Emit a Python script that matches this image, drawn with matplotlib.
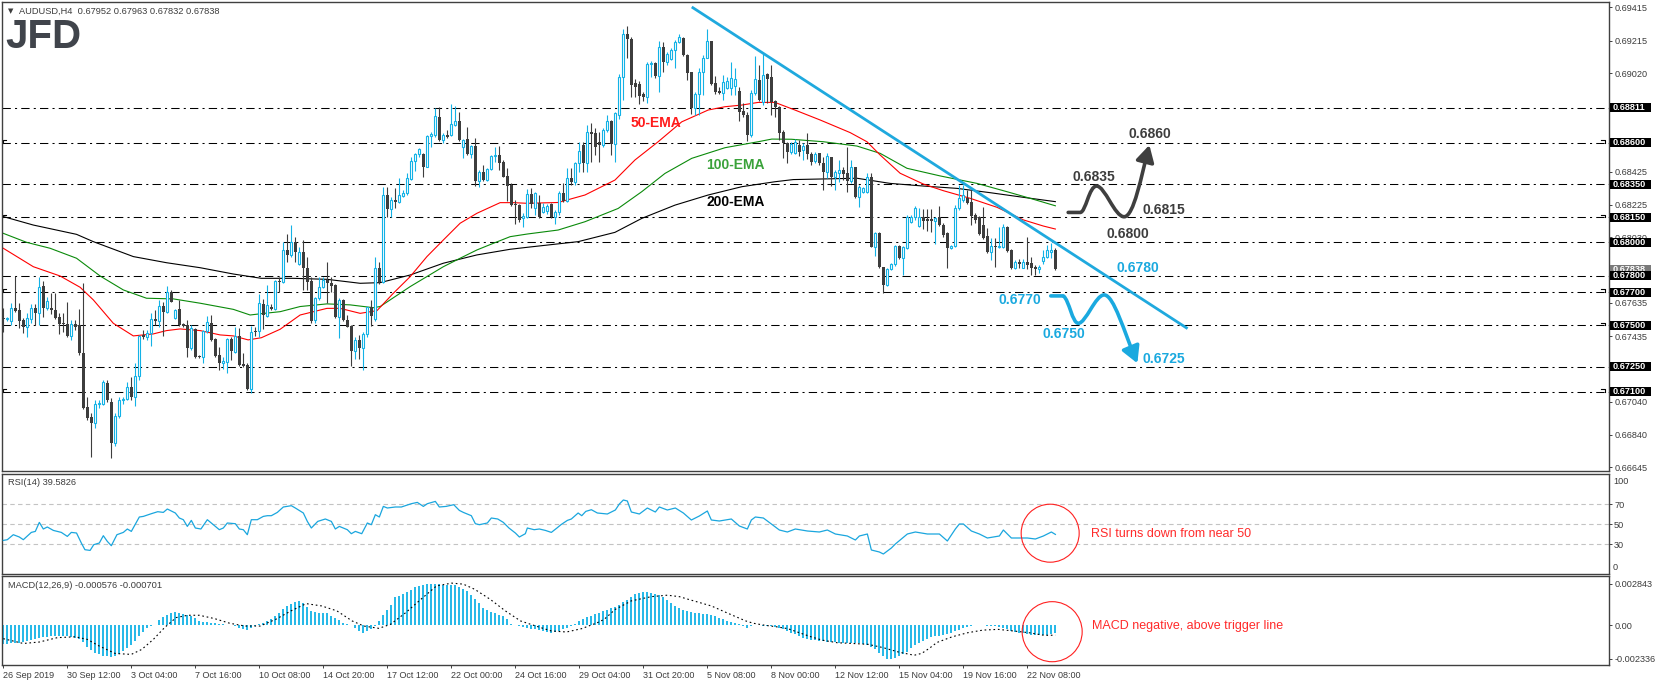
import numpy as np
import matplotlib
matplotlib.use('Agg')
import matplotlib.pyplot as plt
from matplotlib.patches import Rectangle, Ellipse, FancyArrowPatch
from matplotlib.path import Path

plt.rcParams['font.family'] = ['Liberation Sans', 'DejaVu Sans']

# ---- AUDUSD H4 candles (bar index 0 = 26 Sep 2019 00:00) ----
opens = [
    .67542, .67536, .67528, .67602, .67592, .67532, .67492, .67538, .67602, .67572,
    .67737, .67602, .67602, .67592, .67552, .67508, .67508, .67436, .67508, .67502,
    .67335, .67010, .66946, .66914, .67026, .67026, .67155, .67040, .66793, .66954,
    .67050, .67054, .67126, .67066, .67195, .67442, .67428, .67456, .67538, .67528,
    .67616, .67582, .67701, .67542, .67596, .67508, .67502, .67361, .67476, .67315,
    .67307, .67466, .67512, .67416, .67321, .67271, .67281, .67416, .67341, .67436,
    .67265, .67261, .67114, .67466, .67466, .67627, .67556, .67613, .67601, .67767,
    .67761, .67954, .67924, .68000, .67868, .67940, .67848, .67767, .67532, .67663,
    .67733, .67773, .67753, .67743, .67548, .67653, .67532, .67496, .67346, .67412,
    .67362, .67448, .67608, .67536, .67843, .67763, .68285, .68199, .68255, .68245,
    .68280, .68295, .68380, .68490, .68532, .68532, .68456, .68641, .68647, .68753,
    .68617, .68647, .68647, .68707, .68731, .68576, .68621, .68532, .68580, .68372,
    .68426, .68376, .68440, .68520, .68526, .68486, .68400, .68345, .68231, .68225,
    .68145, .68155, .68291, .68208, .68234, .68184, .68190, .68228, .68154, .68184,
    .68295, .68251, .68389, .68361, .68475, .68586, .68475, .68662, .68656, .68606,
    .68586, .68676, .68730, .68590, .68767, .68998, .69255, .69224, .68957, .68951,
    .68891, .68877, .69072, .69078, .69004, .69178, .69084, .69104, .69158, .69208,
    .69234, .69128, .69024, .68807, .68891, .69024, .69112, .69212, .68957, .68911,
    .68897, .68927, .68927, .68943, .68911, .68791, .68767, .68646, .68897, .68975,
    .68847, .69012, .68998, .68851, .68817, .68666, .68596, .68546, .68540, .68586,
    .68556, .68586, .68532, .68492, .68536, .68480, .68426, .68512, .68396, .68420,
    .68436, .68416, .68372, .68452, .68271, .68305, .68305, .68392, .67974, .68058,
    .67853, .67743, .67837, .67869, .67978, .67904, .67964, .68125, .68155, .68098,
    .68151, .68139, .68139, .68131, .68151, .68104, .68054, .67964, .67978, .68205,
    .68255, .68265, .68245, .68165, .68151, .68104, .68038, .67944, .67978, .67974,
    .67970, .68094, .67954, .67843, .67884, .67843, .67884, .67877, .67853, .67837,
    .67890, .67914, .67940, .67952]
highs = [
    .67602, .67550, .67633, .67797, .67633, .67542, .67572, .67628, .67628, .67789,
    .67769, .67673, .67693, .67697, .67576, .67572, .67643, .67532, .67532, .67596,
    .67753, .67070, .66970, .67050, .67050, .67171, .67171, .67060, .66970, .67070,
    .67070, .67161, .67191, .67271, .67442, .67472, .67472, .67572, .67592, .67653,
    .67643, .67737, .67713, .67596, .67653, .67516, .67532, .67502, .67482, .67321,
    .67472, .67556, .67562, .67422, .67371, .67311, .67422, .67432, .67492, .67482,
    .67331, .67271, .67496, .67492, .67687, .67660, .67743, .67629, .67773, .67793,
    .68004, .68050, .68104, .68034, .67974, .68014, .67914, .67793, .67669, .67789,
    .67789, .67884, .67793, .67749, .67663, .67657, .67562, .67502, .67432, .67442,
    .67462, .67612, .67653, .67914, .67884, .68331, .68331, .68275, .68325, .68386,
    .68315, .68416, .68512, .68540, .68570, .68540, .68647, .68667, .68807, .68813,
    .68657, .68677, .68833, .68821, .68787, .68621, .68697, .68586, .68627, .68436,
    .68466, .68446, .68526, .68576, .68580, .68496, .68446, .68356, .68255, .68231,
    .68175, .68320, .68325, .68305, .68285, .68234, .68230, .68234, .68194, .68309,
    .68355, .68449, .68445, .68485, .68606, .68606, .68706, .68716, .68686, .68662,
    .68686, .68767, .68736, .68787, .69012, .69285, .69303, .69238, .68987, .68971,
    .68907, .69088, .69092, .69088, .69212, .69208, .69148, .69168, .69218, .69253,
    .69238, .69132, .69028, .68907, .69048, .69128, .69285, .69216, .69004, .68937,
    .69008, .68998, .69088, .69048, .68937, .68837, .68787, .68917, .69124, .69068,
    .69132, .69018, .69068, .68857, .68823, .68676, .68606, .68606, .68621, .68616,
    .68596, .68657, .68546, .68546, .68540, .68516, .68536, .68516, .68436, .68496,
    .68456, .68576, .68496, .68456, .68345, .68335, .68416, .68416, .68064, .68064,
    .67853, .67843, .67877, .67984, .67984, .67978, .68165, .68165, .68219, .68205,
    .68199, .68199, .68199, .68155, .68219, .68114, .68064, .67984, .68225, .68345,
    .68345, .68315, .68315, .68175, .68159, .68211, .68084, .68024, .68024, .68094,
    .68110, .68098, .67958, .67894, .67898, .67898, .68034, .67914, .67863, .67863,
    .67954, .67984, .67994, .67963]
lows = [
    .67462, .67528, .67502, .67582, .67482, .67456, .67428, .67516, .67502, .67502,
    .67548, .67592, .67568, .67536, .67448, .67462, .67432, .67412, .67472, .67321,
    .66994, .66930, .66709, .66880, .67000, .67020, .67040, .66699, .66773, .66940,
    .67026, .67050, .67050, .67014, .67171, .67416, .67412, .67377, .67502, .67492,
    .67436, .67572, .67643, .67538, .67496, .67492, .67311, .67351, .67301, .67301,
    .67275, .67452, .67408, .67311, .67231, .67235, .67215, .67291, .67335, .67255,
    .67251, .67110, .67094, .67436, .67432, .67480, .67548, .67593, .67593, .67703,
    .67753, .67884, .67914, .67884, .67864, .67710, .67713, .67512, .67512, .67653,
    .67727, .67637, .67701, .67542, .67422, .67528, .67488, .67255, .67295, .67295,
    .67231, .67432, .67496, .67528, .67749, .67753, .68151, .68151, .68205, .68235,
    .68275, .68285, .68376, .68432, .68516, .68396, .68452, .68576, .68633, .68613,
    .68597, .68627, .68641, .68701, .68613, .68506, .68526, .68506, .68340, .68336,
    .68372, .68372, .68436, .68486, .68436, .68392, .68251, .68219, .68111, .68125,
    .68094, .68145, .68205, .68164, .68144, .68174, .68170, .68144, .68108, .68164,
    .68245, .68245, .68345, .68345, .68425, .68425, .68425, .68485, .68526, .68485,
    .68576, .68666, .68526, .68485, .68746, .68857, .69108, .68877, .68877, .68831,
    .68851, .68837, .68998, .68992, .68907, .69028, .69068, .69098, .69048, .69200,
    .69124, .68977, .68771, .68767, .68767, .68887, .69108, .68947, .68891, .68891,
    .68857, .68923, .68887, .68887, .68730, .68757, .68610, .68636, .68887, .68851,
    .68827, .68837, .68767, .68757, .68616, .68510, .68475, .68530, .68532, .68520,
    .68496, .68500, .68466, .68480, .68466, .68315, .68386, .68339, .68315, .68365,
    .68376, .68305, .68356, .68265, .68211, .68300, .68300, .67970, .67918, .67843,
    .67693, .67737, .67833, .67857, .67898, .67803, .67958, .68115, .68135, .68094,
    .68078, .68070, .68064, .67990, .68098, .68034, .67843, .67958, .67974, .68195,
    .68245, .68231, .68104, .68118, .68044, .68018, .67938, .67894, .67853, .67964,
    .67964, .67944, .67837, .67837, .67843, .67843, .67837, .67803, .67803, .67817,
    .67870, .67904, .67904, .67832]
closes = [
    .67536, .67540, .67602, .67588, .67528, .67492, .67542, .67602, .67572, .67729,
    .67602, .67647, .67592, .67542, .67508, .67506, .67436, .67508, .67492, .67335,
    .67004, .66940, .66914, .67026, .67030, .67161, .67050, .66793, .66954, .67050,
    .67054, .67126, .67066, .67195, .67436, .67428, .67456, .67536, .67528, .67616,
    .67582, .67701, .67643, .67592, .67502, .67496, .67361, .67482, .67307, .67307,
    .67466, .67518, .67412, .67315, .67271, .67285, .67416, .67347, .67436, .67261,
    .67257, .67114, .67462, .67462, .67633, .67562, .67621, .67601, .67767, .67761,
    .67954, .67924, .68000, .67944, .67940, .67848, .67763, .67528, .67663, .67733,
    .67773, .67753, .67737, .67548, .67653, .67532, .67492, .67346, .67412, .67362,
    .67448, .67608, .67556, .67843, .67763, .68285, .68199, .68255, .68245, .68285,
    .68295, .68386, .68490, .68532, .68560, .68452, .68641, .68653, .68761, .68617,
    .68647, .68637, .68713, .68731, .68617, .68617, .68532, .68580, .68372, .68426,
    .68376, .68440, .68520, .68526, .68480, .68396, .68340, .68225, .68225, .68135,
    .68159, .68289, .68231, .68295, .68154, .68214, .68218, .68150, .68184, .68295,
    .68251, .68385, .68361, .68475, .68550, .68475, .68662, .68650, .68576, .68586,
    .68676, .68730, .68590, .68777, .68998, .69255, .69224, .68947, .68937, .68883,
    .68877, .69072, .69078, .69004, .69178, .69084, .69132, .69158, .69208, .69238,
    .69128, .69018, .68807, .68891, .69024, .69112, .69212, .68951, .68907, .68897,
    .68967, .68971, .68992, .68987, .68787, .68767, .68646, .68897, .68983, .68857,
    .69008, .68987, .68847, .68817, .68656, .68596, .68546, .68594, .68606, .68546,
    .68580, .68532, .68486, .68532, .68476, .68426, .68520, .68396, .68426, .68436,
    .68412, .68372, .68452, .68271, .68331, .68325, .68392, .67974, .68058, .67849,
    .67743, .67837, .67869, .67978, .67904, .67970, .68155, .68155, .68205, .68151,
    .68131, .68131, .68131, .68145, .68104, .68044, .67964, .67978, .68205, .68265,
    .68285, .68239, .68159, .68135, .68050, .68024, .67944, .67978, .67974, .67978,
    .68094, .67950, .67843, .67884, .67870, .67884, .67864, .67843, .67837, .67853,
    .67914, .67954, .67952, .67838]

# ---- moving averages (bar index, price) ----
ema50_x = [0, 7.5, 14.2, 19.2, 22.5, 27.5, 32.5, 37.5, 40.8, 44.2, 49.2, 54.2, 57.5, 61.2, 64.5,
           69.2, 74.2, 80.9, 84.2, 89.2, 93.4, 97.5, 101.7, 105.9, 110, 114.2, 118.4, 124.2,
           127.5, 131, 138.7, 145.4, 152.9, 157.9, 163.7, 169.6, 176.2, 180.4, 184.6, 188.7,
           192.9, 197.9, 204.2, 211.7, 215.9, 219.2, 224.2, 230, 235, 241.7, 248.4, 255, 260, 263]
ema50_y = [.67964, .67853, .67797, .67729, .67653, .67512, .67436, .67448, .67468, .67478, .67468,
           .67442, .67436, .67412, .67425, .67476, .67562, .67602, .67602, .67572, .67588, .67693,
           .67793, .67914, .68014, .68115, .68175, .68239, .68239, .68235, .68240, .68285, .68375,
           .68496, .68606, .68726, .68797, .68817, .68827, .68843, .68843, .68797, .68737, .68661,
           .68606, .68526, .68416, .68351, .68311, .68265, .68211, .68135, .68098, .68080]
ema100_x = [0, 5.8, 11.7, 18.3, 24.2, 30, 35.8, 42.5, 49.2, 57.5, 61.7, 64.5, 69.2, 74.2, 80.9,
            86.7, 92.5, 94.2, 101.7, 110, 114.2, 118.4, 122.5, 126.7, 131, 138.7, 145.4, 153.7,
            159.6, 165.4, 172.1, 180.4, 188.7, 192.1, 197, 205, 213.4, 219.2, 225.9, 234.2,
            243.4, 250.9, 256.7, 263]
ema100_y = [.68054, .68000, .67964, .67904, .67797, .67713, .67663, .67659, .67633, .67596, .67562,
            .67570, .67582, .67613, .67629, .67623, .67606, .67613, .67733, .67853, .67904, .67954,
            .67994, .68034, .68050, .68074, .68124, .68204, .68305, .68415, .68506, .68570, .68606,
            .68622, .68621, .68606, .68580, .68536, .68446, .68400, .68355, .68305, .68265, .68220]
ema200_x = [0, 7.5, 18.3, 22.5, 32.5, 40.8, 49.2, 57.5, 64.5, 72.5, 80.9, 89.2, 94.2, 101.7, 110,
            118.4, 126.7, 131, 143.7, 152.9, 159.6, 167.9, 176.2, 184.6, 192.9, 197.5, 213.4,
            221.7, 230, 238.4, 246.7, 255, 263]
ema200_y = [.68155, .68104, .68048, .68004, .67914, .67877, .67847, .67809, .67783, .67783, .67777,
            .67753, .67757, .67803, .67874, .67924, .67958, .67970, .68004, .68060, .68144, .68224,
            .68285, .68335, .68365, .68378, .68386, .68355, .68339, .68325, .68299, .68271, .68245]

levels = [0.68811, 0.68600, 0.68350, 0.68150, 0.68000, 0.67800, 0.67700, 0.67500, 0.67250, 0.67100]
hook_left = [0.68600, 0.68150, 0.67700, 0.67100]
hook_right = [0.68600, 0.68150, 0.67700, 0.67500, 0.67100]
price_ticks = [0.69415, 0.69215, 0.69020, 0.68425, 0.68225, 0.68030,
               0.67635, 0.67435, 0.67040, 0.66840, 0.66645]
last_price = 0.67838
trend_x = [172.1, 296.05]
trend_y = [0.69418, 0.67480]

# ---- RSI(14) ----
rsi_x = [0, 1, 2.5, 4, 5, 7, 8, 9, 10, 11, 12.5, 14.5, 16, 17, 18.3, 19.5, 20.4, 21.7, 22.6, 24,
         25, 26, 27, 28.4, 30, 31, 32, 34, 35, 37, 38.6, 40, 41, 43, 44, 45, 46, 47, 48, 49.4,
         51, 52, 54, 55, 56, 58, 59, 60, 61, 62, 63.5, 65, 66, 67, 68.5, 70, 72, 73, 75, 76, 77,
         78.6, 80.5, 82, 83, 84, 86, 87, 88, 89.6, 91, 92, 93, 94, 95, 96, 98, 99.5, 102, 103.5,
         105, 106, 108, 109, 110.7, 112.6, 114, 115, 117, 118, 119, 121, 122, 123.6, 125, 126.4,
         128, 129, 130.5, 131, 132.7, 134, 135.5, 137, 138.4, 139.4, 141, 142, 143.7, 144.6,
         145.6, 147, 148.5, 151, 153, 154, 155, 156, 157, 159, 161, 163, 164, 166, 168, 170, 172,
         174, 176, 177, 179, 182, 184, 186, 187, 188, 190, 192, 194, 196, 198, 201, 204, 206,
         208, 211, 213, 214, 216, 217, 219, 220, 222, 223, 226, 228, 231, 234, 236, 238, 239,
         240, 242, 244, 246, 249, 250, 252, 254, 256, 258, 260, 262, 263]
rsi_y = [33.6, 34.3, 39.3, 37, 34.3, 41.6, 42.6, 51.6, 45, 47, 43.6, 41.6, 37.6, 41.6, 41, 31,
         24.3, 23.6, 29.3, 31, 38.3, 32.6, 28.3, 39.3, 41.6, 45, 42.6, 57, 57.6, 60.3, 62.3, 61.6,
         65, 61, 56, 54.3, 47.6, 53.6, 46, 45, 54.3, 51, 44.3, 46, 51, 50.3, 45, 44.3, 39.3, 54.3,
         54.3, 57.6, 58.3, 58.3, 61.6, 67, 68.3, 66, 61, 52.6, 46, 52.6, 55, 52.6, 45, 47.6, 44.3,
         40.3, 42.6, 40.3, 51, 49.3, 59.3, 57, 67.6, 66, 67, 67, 70.3, 71.6, 67.6, 70.3, 72.6, 67,
         67.6, 69.3, 63.6, 61.6, 58.3, 50.3, 49.3, 51, 56, 55, 51.6, 46, 41, 37, 40.3, 46, 44.3,
         45, 43.6, 41.6, 46, 49.3, 53.6, 55, 61, 58.3, 62.6, 64.3, 61, 60, 64, 70, 74, 73, 62, 60,
         66, 62, 67, 64, 66, 61, 54, 58, 63, 54, 53, 55, 48, 45, 54, 57, 56, 50, 44, 42, 45, 43,
         42, 44, 40, 38, 34, 38, 40, 24, 22, 20, 26, 30, 40, 42, 40, 40, 33, 45, 50, 50, 43, 40,
         36, 38, 44, 36, 36, 36, 35, 38, 42, 39.6]

# ---- MACD(12,26,9): histogram per bar, signal read at points ----
macd_hist = [
    -133e-5, -129e-5, -127e-5, -125e-5, -123e-5, -118e-5, -110e-5, -103e-5, -96e-5, -90e-5,
    -85e-5, -80e-5, -77e-5, -76e-5, -76e-5, -76e-5, -76e-5, -80e-5, -88e-5, -97e-5,
    -120e-5, -150e-5, -170e-5, -190e-5, -202e-5, -210e-5, -216e-5, -218e-5, -210e-5, -200e-5,
    -180e-5, -160e-5, -140e-5, -110e-5, -75e-5, -50e-5, -22e-5, -8e-5, 0, 35e-5,
    52e-5, 70e-5, 80e-5, 90e-5, 84e-5, 74e-5, 68e-5, 62e-5, 45e-5, 28e-5,
    23e-5, 20e-5, 16e-5, 13e-5, 10e-5, 5e-5, 0, -3e-5, -8e-5, -18e-5,
    -28e-5, -34e-5, -20e-5, -8e-5, 4e-5, 12e-5, 28e-5, 44e-5, 65e-5, 85e-5,
    108e-5, 130e-5, 145e-5, 158e-5, 166e-5, 150e-5, 125e-5, 95e-5, 88e-5, 85e-5,
    84e-5, 80e-5, 65e-5, 50e-5, 35e-5, 16e-5, 5e-5, -2e-5, -20e-5, -40e-5,
    -53e-5, -40e-5, -30e-5, -7e-5, 30e-5, 70e-5, 100e-5, 140e-5, 190e-5, 200e-5,
    210e-5, 225e-5, 240e-5, 258e-5, 270e-5, 276e-5, 282e-5, 284e-5, 283e-5, 280e-5,
    278e-5, 278e-5, 276e-5, 272e-5, 262e-5, 250e-5, 235e-5, 205e-5, 180e-5, 150e-5,
    120e-5, 100e-5, 92e-5, 85e-5, 72e-5, 62e-5, 40e-5, 8e-5, 2e-5, -7e-5,
    -15e-5, -23e-5, -27e-5, -30e-5, -36e-5, -41e-5, -46e-5, -52e-5, -48e-5, -41e-5,
    -28e-5, -20e-5, -7e-5, 8e-5, 25e-5, 40e-5, 58e-5, 65e-5, 74e-5, 85e-5,
    95e-5, 105e-5, 115e-5, 125e-5, 140e-5, 160e-5, 175e-5, 195e-5, 210e-5, 220e-5,
    225e-5, 224e-5, 220e-5, 214e-5, 205e-5, 190e-5, 170e-5, 150e-5, 130e-5, 115e-5,
    100e-5, 95e-5, 88e-5, 84e-5, 80e-5, 78e-5, 76e-5, 72e-5, 60e-5, 45e-5,
    38e-5, 30e-5, 22e-5, 14e-5, 5e-5, -10e-5, -18e-5, -5e-5, -2e-5, -3e-5,
    -5e-5, -7e-5, -10e-5, -16e-5, -22e-5, -30e-5, -40e-5, -53e-5, -65e-5, -76e-5,
    -88e-5, -95e-5, -100e-5, -104e-5, -108e-5, -112e-5, -116e-5, -118e-5, -120e-5, -122e-5,
    -122e-5, -122e-5, -122e-5, -124e-5, -127e-5, -132e-5, -140e-5, -150e-5, -165e-5, -190e-5,
    -214e-5, -232e-5, -234e-5, -228e-5, -214e-5, -200e-5, -185e-5, -160e-5, -140e-5, -122e-5,
    -108e-5, -94e-5, -85e-5, -76e-5, -74e-5, -71e-5, -62e-5, -53e-5, -42e-5, -32e-5,
    -20e-5, -11e-5, -6e-5, -2e-5, -2e-5, -3e-5, -5e-5, -7e-5, -7e-5, -12e-5,
    -18e-5, -28e-5, -41e-5, -47e-5, -53e-5, -58e-5, -64e-5, -67e-5, -71e-5, -71e-5,
    -71e-5, -68e-5, -64e-5, -57.6e-5]
signal_x = [0, 5, 9, 13.5, 18, 21, 24, 28, 32, 34.6, 37.5, 40.3, 43.2, 46.1, 49, 52.8, 56.6, 60.4,
            64.2, 68.1, 71.9, 75.7, 79.6, 83.4, 87.2, 90.1, 93.9, 96.8, 100.6, 104.4, 108.3, 112.1,
            115, 117.8, 121.7, 125.5, 129.3, 133.1, 137, 140.8, 144.6, 148.5, 150.2, 153, 157, 162,
            166, 169, 171.2, 174.1, 177, 179.8, 182.7, 185.6, 187.5, 190.4, 193.2, 196.1, 199,
            201.8, 204.7, 208.5, 212.4, 216.2, 220, 223.8, 227.7, 229.6, 231.5, 233.4, 237.2,
            241.1, 244.9, 248.7, 252.5, 256.4, 260.2, 263]
signal_y = [-94e-5, -127e-5, -117e-5, -87e-5, -81e-5, -99e-5, -145e-5, -196e-5, -202e-5, -168e-5,
            -99e-5, -18e-5, 51e-5, 67e-5, 67e-5, 44e-5, 12e-5, -7e-5, -7e-5, 39e-5, 97e-5, 147e-5,
            131e-5, 97e-5, 28e-5, -7e-5, -23e-5, 5e-5, 85e-5, 177e-5, 269e-5, 288e-5, 281e-5,
            246e-5, 177e-5, 97e-5, 28e-5, -7e-5, -41e-5, -48e-5, -25e-5, 16e-5, 39e-5, 108e-5,
            166e-5, 195e-5, 205e-5, 195e-5, 177e-5, 154e-5, 131e-5, 97e-5, 62e-5, 28e-5, 12e-5,
            -2e-5, -12e-5, -25e-5, -53e-5, -80e-5, -104e-5, -122e-5, -127e-5, -133e-5, -156e-5,
            -186e-5, -208e-5, -195e-5, -160e-5, -120e-5, -81e-5, -53e-5, -35e-5, -30e-5, -41e-5,
            -53e-5, -71e-5, -70e-5]

date_pos = list(range(0, 257, 16))
date_labels = ['26 Sep 2019', '30 Sep 12:00', '3 Oct 04:00', '7 Oct 16:00', '10 Oct 08:00',
               '14 Oct 20:00', '17 Oct 12:00', '22 Oct 00:00', '24 Oct 16:00', '29 Oct 04:00',
               '31 Oct 20:00', '5 Nov 08:00', '8 Nov 00:00', '12 Nov 12:00', '15 Nov 04:00',
               '19 Nov 16:00', '22 Nov 08:00']

BLUE = '#13b2e6'
DARK = '#3d3d3d'
TXT = '#3c3c3c'
W, H = 1655, 686

fig = plt.figure(figsize=(W / 100, H / 100), dpi=100)


def panel(top, bottom, left=2, right=1609):
    a = fig.add_axes([left / W, 1 - bottom / H, (right - left) / W, (bottom - top) / H])
    for s in a.spines.values():
        s.set_color('#404040')
        s.set_linewidth(1.0)
    a.set_xlim(-0.33, 401.4)
    a.yaxis.tick_right()
    a.tick_params(axis='y', direction='out', length=2.2, width=0.7, pad=1.5,
                  labelsize=6.6, labelcolor=TXT, color='#404040')
    return a


ax = panel(2, 471)
ax_rsi = panel(474, 574)
ax_macd = panel(576, 665)

# ---- main price panel ----
o, h, l, c = map(np.array, (opens, highs, lows, closes))
idx = np.arange(len(c))
up = c > o
ax.vlines(idx, l, h, colors=np.where(up, BLUE, DARK), lw=0.8, zorder=3)
bh = np.maximum(np.abs(c - o), 0.00005)
bb = np.minimum(o, c)
ax.bar(idx[~up], bh[~up], bottom=bb[~up], width=0.75, color=DARK, lw=0, zorder=4)
ax.bar(idx[up], bh[up], bottom=bb[up], width=0.55, facecolor='white', edgecolor=BLUE,
       lw=0.8, zorder=4)

ax.plot(ema200_x, ema200_y, color='black', lw=0.8, zorder=2)
ax.plot(ema100_x, ema100_y, color='#0a8a0a', lw=0.8, zorder=2)
ax.plot(ema50_x, ema50_y, color='#ff0000', lw=0.8, zorder=2)

for lv in levels:
    ax.axhline(lv, color='black', lw=0.75, ls=(0, (8, 4, 2, 4)), zorder=1)

# small anchor hooks of the horizontal lines (left edge / right edge)
hk = 0.00016
for lv in hook_left:
    ax.plot([0.02, 0.02, 0.55], [lv, lv + hk, lv + hk], transform=ax.get_yaxis_transform()
            if False else ax.transData, color='black', lw=0.8, zorder=2)
for lv in hook_right:
    ax.plot([399.5, 400.3, 400.3], [lv + hk, lv + hk, lv], color='black', lw=0.8, zorder=2)

ax.plot(trend_x, trend_y, color='#1fa9de', lw=2.0, solid_capstyle='butt', zorder=5)

ax.set_ylim(0.66622, 0.69448)
ax.set_xticks([])
ax.set_yticks(price_ticks)
ax.set_yticklabels([f'{t:.5f}' for t in price_ticks])

yt = ax.get_yaxis_transform()
box_w = 41 / 1607
box_h = 9 / 16600
ax.add_patch(Rectangle((1.0006, last_price - box_h / 2), box_w, box_h, transform=yt,
                       fc='#7a7a7a', ec='none', clip_on=False, zorder=6))
ax.text(1.0025, last_price, f'{last_price:.5f}', transform=yt, color='white', fontsize=6.6,
        fontweight='bold', va='center', ha='left', clip_on=False, zorder=7)
for lv in levels:
    ax.add_patch(Rectangle((1.0006, lv - box_h / 2), box_w, box_h, transform=yt,
                           fc='black', ec='none', clip_on=False, zorder=8))
    ax.text(1.0025, lv, f'{lv:.5f}', transform=yt, color='white', fontsize=6.6,
            fontweight='bold', va='center', ha='left', clip_on=False, zorder=9)

# annotations
ax.text(156.7, 0.68719, '50-EMA', color='#ff1a1a', fontsize=10, fontweight='bold', va='center')
ax.text(175.7, 0.68466, '100-EMA', color='#3aa23a', fontsize=10, fontweight='bold', va='center')
ax.text(175.7, 0.68243, '200-EMA', color='black', fontsize=10, fontweight='bold', va='center')

for x, y, s in [(281.2, 0.68653, '0.6860'), (267.2, 0.68394, '0.6835'),
                (284.9, 0.68195, '0.6815'), (275.9, 0.68050, '0.6800')]:
    ax.text(x, y, s, color=DARK, fontsize=10, fontweight='bold', va='center')
for x, y, s in [(278.2, 0.67845, '0.6780'), (248.9, 0.67653, '0.6770'),
                (259.9, 0.67448, '0.6750'), (284.9, 0.67297, '0.6725')]:
    ax.text(x, y, s, color='#1aa9df', fontsize=10, fontweight='bold', va='center')

up_path = Path([(266.2, 0.6818), (269.2, 0.6818),
                (270.6, 0.6818), (271.4, 0.68339), (273.3, 0.68339),
                (275.4, 0.68339), (277.8, 0.68154), (280.2, 0.68154),
                (282.6, 0.68154), (284.5, 0.6840), (286.5, 0.68586)],
               [Path.MOVETO, Path.LINETO,
                Path.CURVE4, Path.CURVE4, Path.CURVE4,
                Path.CURVE4, Path.CURVE4, Path.CURVE4,
                Path.CURVE4, Path.CURVE4, Path.CURVE4])
dn_path = Path([(261.85, 0.67677), (265.0, 0.67677),
                (266.5, 0.67650), (267.2, 0.67512), (268.75, 0.67512),
                (270.6, 0.67512), (273.0, 0.67683), (275.2, 0.67683),
                (277.6, 0.67683), (280.2, 0.67460), (283.5, 0.67271)],
               [Path.MOVETO, Path.LINETO,
                Path.CURVE4, Path.CURVE4, Path.CURVE4,
                Path.CURVE4, Path.CURVE4, Path.CURVE4,
                Path.CURVE4, Path.CURVE4, Path.CURVE4])
for pth, col in [(up_path, '#3f3f3f'), (dn_path, '#1aa9df')]:
    ax.add_patch(FancyArrowPatch(path=pth, arrowstyle='-|>,head_length=0.9,head_width=0.5',
                                 mutation_scale=11, color=col, lw=2.6, zorder=6))

ax.text(0.004, 0.981, '\u25bc', transform=ax.transAxes, fontsize=5, color=TXT, va='center',
        family=['DejaVu Sans'])
ax.text(0.0107, 0.981, 'AUDUSD,H4  0.67952 0.67963 0.67832 0.67838', transform=ax.transAxes,
        fontsize=6.7, color=TXT, va='center')
fig.text(5 / W, 1 - 37 / H, 'JFD', fontsize=29, fontweight='bold', color='#40444b',
         va='center', ha='left', family=['Liberation Sans Narrow', 'Liberation Sans'])

# ---- RSI panel ----
ax_rsi.set_ylim(0, 100)
ax_rsi.set_xticks([])
for lv in (30, 50, 70):
    ax_rsi.axhline(lv, color='#c3c3c3', lw=0.8, ls=(0, (4, 3)), zorder=1)
ax_rsi.plot(rsi_x, rsi_y, color='#1aa6de', lw=0.9, zorder=3)
ax_rsi.set_yticks([30, 50, 70])
rt = ax_rsi.get_yaxis_transform()
ax_rsi.text(1.0025, 93, '100', transform=rt, fontsize=6.6, color=TXT, va='center', clip_on=False)
ax_rsi.text(1.0025, 7, '0', transform=rt, fontsize=6.6, color=TXT, va='center', clip_on=False)
ax_rsi.text(0.0035, 0.912, 'RSI(14) 39.5826', transform=ax_rsi.transAxes, fontsize=6.7,
            color=TXT, va='center')
ax_rsi.add_patch(Ellipse((261.7, 40.8), 14.5, 58, fill=False, ec='#ff2020', lw=0.8,
                         clip_on=False, zorder=5))
ax_rsi.text(271.9, 40.3, 'RSI turns down from near 50', color='#ff2a2a', fontsize=9,
            va='center')

# ---- MACD panel ----
ax_macd.set_ylim(-0.00275, 0.00337)
ax_macd.vlines(idx, 0, macd_hist, colors=BLUE, lw=1.3, zorder=2)
ax_macd.plot(signal_x, signal_y, color='black', lw=0.8, ls=(0, (1.5, 2.5)), zorder=3)
ax_macd.set_yticks([0.002843, 0.0, -0.002336])
ax_macd.set_yticklabels(['0.002843', '0.00', '-0.002336'])
ax_macd.set_xticks(date_pos)
ax_macd.set_xticklabels(date_labels)
ax_macd.tick_params(axis='x', direction='out', length=2.2, width=0.7, pad=2,
                    labelsize=6.5, labelcolor=TXT, color='#404040')
for lbl in ax_macd.get_xticklabels():
    lbl.set_ha('left')
ax_macd.text(0.0035, 0.888, 'MACD(12,26,9) -0.000576 -0.000701', transform=ax_macd.transAxes,
             fontsize=6.7, color=TXT, va='center')
ax_macd.add_patch(Ellipse((262.2, -0.00046), 15, 0.00413, fill=False, ec='#ff2020', lw=0.8,
                          clip_on=False, zorder=5))
ax_macd.text(272.2, -0.00005, 'MACD negative, above trigger line', color='#ff2a2a',
             fontsize=9, va='center')

fig.savefig('out.png', dpi=100)
